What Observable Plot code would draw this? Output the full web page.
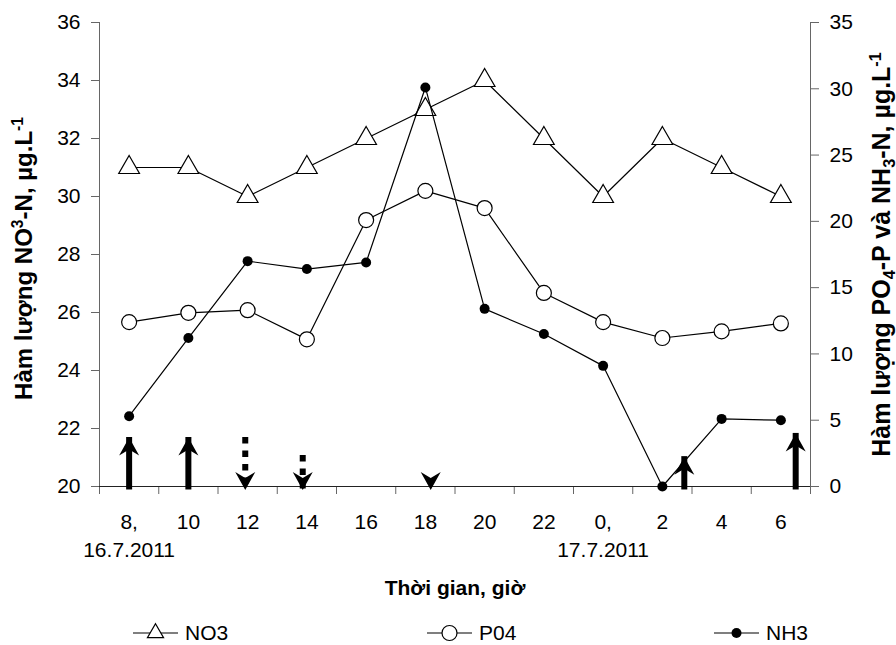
<!DOCTYPE html>
<html>
<head>
<meta charset="utf-8">
<script src="https://cdn.jsdelivr.net/npm/d3@7"></script>
<script src="https://cdn.jsdelivr.net/npm/@observablehq/plot@0.6"></script>
<style>
  html, body { margin: 0; padding: 0; background: #fff; }
  body { font-family: "Liberation Sans", Arial, sans-serif; width: 896px; height: 645px; overflow: hidden; }
  #legend { position: relative; height: 45px; }
</style>
</head>
<body>
<div id="chart"></div>
<div id="legend"></div>
<script>
// ---- data ----
const hourLabels = ["8,", "10", "12", "14", "16", "18", "20", "22", "0,", "2", "4", "6"];
const dateIndex = [0, 8];
const dateLabels = ["16.7.2011", "17.7.2011"];

const no3 = [31, 31, 30, 31, 32, 33, 34, 32, 30, 32, 31, 30];          // left axis
const po4 = [12.4, 13.1, 13.3, 11.1, 20.1, 22.3, 21.0, 14.6, 12.4, 11.2, 11.7, 12.3]; // right axis
const nh3 = [5.3, 11.2, 17.0, 16.4, 16.9, 30.1, 13.4, 11.5, 9.1, 0, 5.1, 5.0];        // right axis

const leftTicks = [20, 22, 24, 26, 28, 30, 32, 34, 36];
const rightTicks = [0, 5, 10, 15, 20, 25, 30, 35];

// annotation arrows (x in category index units, y in left-axis units)
const upArrowX = [0, 1, 9.37, 11.25];
const upArrowTip = [21.69, 21.69, 21.03, 21.83];
const downArrowX = [1.96, 2.93, 5.09];
const downArrowTop = [21.69, 21.07, null];
const arrowBase = 19.88;

const seriesNames = ["NO3", "P04", "NH3"];

// ---- scales helpers ----
const L0 = 20, L1 = 36, R1 = 35;
const toLeft = v => L0 + v * (L1 - L0) / R1;
const fromLeft = v => (v - L0) * R1 / (L1 - L0);
const idx = (d, i) => i;
const boundaries = d3.range(13).map(i => i - 0.5);

// custom arrow head symbols (anchored at the tip)
const headUp = { draw(ctx, size) { const k = Math.sqrt(size / Math.PI) / 10;
  ctx.moveTo(0, 0); ctx.lineTo(10 * k, 18 * k); ctx.lineTo(0, 12 * k); ctx.lineTo(-10 * k, 18 * k); ctx.closePath(); } };
const headDown = { draw(ctx, size) { const k = Math.sqrt(size / Math.PI) / 10;
  ctx.moveTo(0, 0); ctx.lineTo(10 * k, -18 * k); ctx.lineTo(0, -12 * k); ctx.lineTo(-10 * k, -18 * k); ctx.closePath(); } };

const leftLabelParts = [["Hàm lượng NO", ""], ["3", "sup"], ["-N, µg.L", ""], ["-1", "sup"]];
const rightLabelParts = [["Hàm lượng PO", ""], ["4", "sub"], ["-P và NH", ""], ["3", "sub"], ["-N, µg.L", ""], ["-1", "sup"]];
const joinParts = p => p.map(d => d[0]).join("");

const dotted = downArrowX.map((x, i) => ({x, top: downArrowTop[i]})).filter(d => d.top != null);

const plot = Plot.plot({
  width: 896,
  height: 600,
  marginLeft: 99,
  marginRight: 86,
  marginTop: 22,
  marginBottom: 114,
  style: { fontFamily: "'Liberation Sans', Arial, sans-serif", fontSize: "21px", background: "#fff", overflow: "visible" },
  x: { type: "linear", domain: [-0.5, 11.5] },
  y: { type: "linear", domain: [L0, L1] },
  marks: [
    // axes
    Plot.ruleX([-0.5, 11.5], { stroke: "#666", strokeWidth: 1 }),
    Plot.axisY({ anchor: "left", ticks: leftTicks, tickSize: 8, tickPadding: 11, label: null, stroke: "#666", fill: "#000", fontSize: 21 }),
    Plot.axisY({ anchor: "right", ticks: rightTicks.map(toLeft), tickFormat: d => String(Math.round(fromLeft(d))), tickSize: 8, tickPadding: 11, label: null, stroke: "#666", fill: "#000", fontSize: 21 }),
    Plot.axisX({ ticks: boundaries, tickFormat: () => "", tickSize: 8, label: null, stroke: "#666" }),
    Plot.ruleY([L0], { stroke: "#222", strokeWidth: 1 }),
    Plot.text(hourLabels, { x: idx, text: d => d, frameAnchor: "bottom", dy: 36, lineAnchor: "middle", fontSize: 21 }),
    Plot.text(dateLabels, { x: (d, i) => dateIndex[i], text: d => d, frameAnchor: "bottom", dy: 64, lineAnchor: "middle", fontSize: 21 }),
    Plot.text([joinParts(leftLabelParts)], { frameAnchor: "left", textAnchor: "middle", dx: -75, dy: 4, rotate: -90, fontWeight: "bold", fontSize: 24 }),
    Plot.text([joinParts(rightLabelParts)], { frameAnchor: "right", textAnchor: "middle", dx: 71, rotate: -90, fontWeight: "bold", fontSize: 25 }),
    Plot.text(["Thời gian, giờ"], { frameAnchor: "bottom", dy: 102, lineAnchor: "middle", fontWeight: "bold", fontSize: 21 }),
    // series
    Plot.line(no3, { x: idx, y: d => d, stroke: "#000", strokeWidth: 1.2 }),
    Plot.dot(no3, { x: idx, y: d => d, symbol: "triangle", r: 7.7, fill: "#fff", stroke: "#000", strokeWidth: 1.2 }),
    Plot.line(po4, { x: idx, y: d => toLeft(d), stroke: "#000", strokeWidth: 1.2 }),
    Plot.dot(po4, { x: idx, y: d => toLeft(d), symbol: "circle", r: 7.5, fill: "#fff", stroke: "#000", strokeWidth: 1.2 }),
    Plot.line(nh3, { x: idx, y: d => toLeft(d), stroke: "#000", strokeWidth: 1.2 }),
    Plot.dot(nh3, { x: idx, y: d => toLeft(d), symbol: "circle", r: 5, fill: "#000", stroke: "none" }),
    // annotation arrows
    Plot.ruleX(upArrowX, { x: d => d, y1: arrowBase, y2: (d, i) => upArrowTip[i], stroke: "#000", strokeWidth: 6 }),
    Plot.dot(upArrowX, { x: d => d, y: (d, i) => upArrowTip[i], symbol: headUp, r: 10, fill: "#000" }),
    Plot.ruleX(dotted, { x: "x", y1: "top", y2: arrowBase, stroke: "#000", strokeWidth: 6, strokeDasharray: "6.5,7" }),
    Plot.dot(downArrowX, { x: d => d, y: arrowBase, symbol: headDown, r: 10, fill: "#000" })
  ]
});

document.getElementById("chart").appendChild(plot);

// superscripts / subscripts in axis titles
function richify(parts) {
  const full = joinParts(parts);
  d3.select(plot).selectAll("text").each(function () {
    if (this.textContent === full) {
      const t = d3.select(this);
      t.text(null);
      let shift = 0;
      parts.forEach(([s, kind]) => {
        const target = kind === "sup" ? -9 : kind === "sub" ? 5 : 0;
        const ts = t.append("tspan").text(s).attr("dy", target - shift);
        if (kind) ts.attr("font-size", "0.65em");
        shift = target;
      });
    }
  });
}
richify(leftLabelParts);
richify(rightLabelParts);

// legend
const legendX = [133, 427, 714];
const lg = d3.select("#legend").append("svg").attr("width", 896).attr("height", 45)
  .style("font-family", "'Liberation Sans', Arial, sans-serif");
seriesNames.forEach((name, i) => {
  const x0 = legendX[i], cy = 33;
  const g = lg.append("g");
  g.append("line").attr("x1", x0).attr("x2", x0 + 45).attr("y1", cy).attr("y2", cy).attr("stroke", "#000").attr("stroke-width", 1.2);
  const sym = i === 0 ? d3.symbolTriangle2 : d3.symbolCircle;
  const r = i === 0 ? 7.7 : i === 1 ? 7.5 : 5;
  g.append("path").attr("transform", `translate(${x0 + 22.5},${cy})`)
    .attr("d", d3.symbol(sym, r * r * Math.PI)())
    .attr("fill", i === 2 ? "#000" : "#fff").attr("stroke", i === 2 ? "none" : "#000").attr("stroke-width", 1.2);
  g.append("text").attr("x", x0 + 52).attr("y", cy).attr("dy", "0.35em").attr("font-size", 21).text(name);
});
</script>
</body>
</html>
